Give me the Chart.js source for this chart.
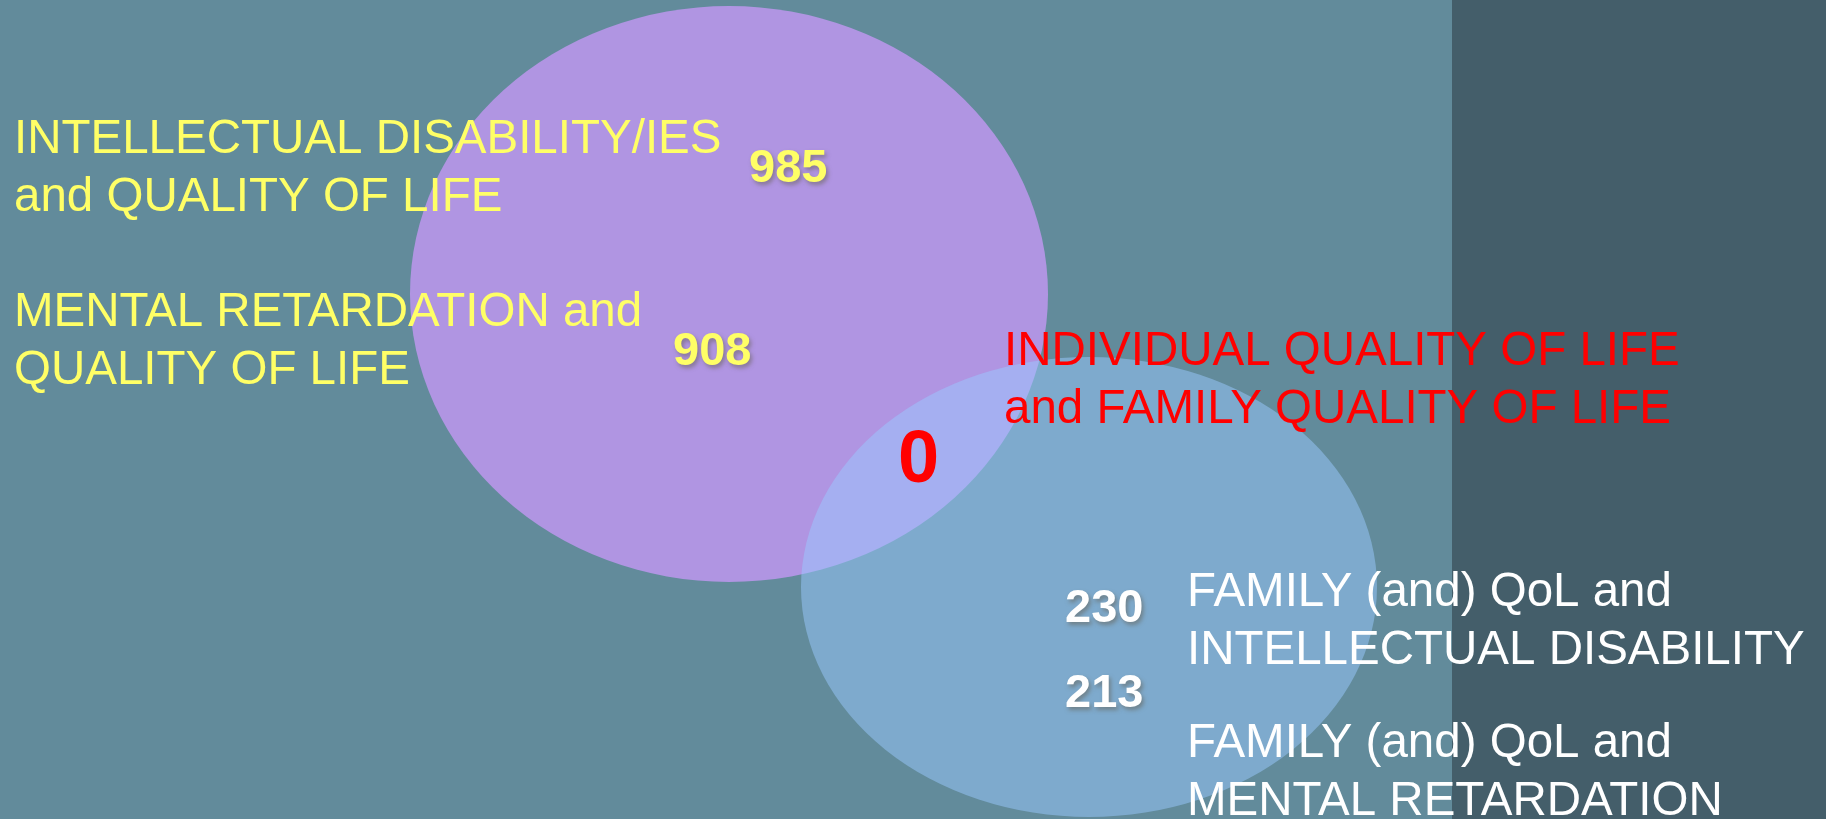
<!DOCTYPE html>
<html><head><meta charset="utf-8">
<script src="https://cdn.jsdelivr.net/npm/chart.js@4.4.1/dist/chart.umd.min.js"></script>
<style>html,body{margin:0;padding:0;background:#628b9b;overflow:hidden}#wrap{width:1826px;height:819px}canvas{display:block}</style>
</head><body><div id="wrap"><canvas id="c" width="1826" height="819"></canvas></div>
<script>
// ---- data ----
const setNames = ['ID/MR and QoL', 'Individual QoL and Family QoL'];
const yellowLabels = [['INTELLECTUAL DISABILITY/IES', 'and QUALITY OF LIFE'], ['MENTAL RETARDATION and', 'QUALITY OF LIFE']];
const yellowCounts = [985, 908];
const whiteLabels = [['FAMILY (and) QoL and', 'INTELLECTUAL DISABILITY'], ['FAMILY (and) QoL and', 'MENTAL RETARDATION']];
const whiteCounts = [230, 213];
const overlapLabel = ['INDIVIDUAL QUALITY OF LIFE', 'and FAMILY QUALITY OF LIFE'];
const overlapCount = [0];

// ---- layout (positions in scale units; scales span the canvas) ----
const W = 1826, H = 819;
const ellipseGeom = [
  {x: 729, y: 294, rx: 319, ry: 288, color: 'rgb(176,149,226)'},
  {x: 1089, y: 587, rx: 288, ry: 230, color: 'rgba(154,201,255,0.5)'}
];
const yellowLabelPos = [{x: 14, y: 153}, {x: 14, y: 326}];
const yellowCountPos = [{x: 749, y: 182}, {x: 673, y: 365}];
const whiteLabelPos = [{x: 1187, y: 606}, {x: 1187, y: 757}];
const whiteCountPos = [{x: 1065, y: 622}, {x: 1065, y: 707}];
const overlapLabelPos = {x: 1004, y: 365};
const overlapCountPos = {x: 898, y: 482};
const LINE = 58;
const FONT = "'Liberation Sans', Arial, sans-serif";

const vennPlugin = {
  id: 'venn',
  beforeDraw(chart) {
    const {ctx} = chart;
    const xs = chart.scales.x;
    ctx.save();
    ctx.fillStyle = '#628b9b';
    ctx.fillRect(0, 0, chart.width, chart.height);
    const px = xs.getPixelForValue(1452);
    ctx.fillStyle = '#445e6a';
    ctx.fillRect(px, 0, chart.width - px, chart.height);
    ctx.restore();
  },
  beforeDatasetsDraw(chart) {
    const {ctx} = chart;
    const xs = chart.scales.x, ys = chart.scales.y;
    const meta = chart.getDatasetMeta(0);
    ctx.save();
    meta.data.forEach((pt, i) => {
      const g = ellipseGeom[i];
      const rx = Math.abs(xs.getPixelForValue(g.x + g.rx) - xs.getPixelForValue(g.x));
      const ry = Math.abs(ys.getPixelForValue(g.y + g.ry) - ys.getPixelForValue(g.y));
      ctx.beginPath();
      ctx.ellipse(pt.x, pt.y, rx, ry, 0, 0, Math.PI * 2);
      ctx.fillStyle = g.color;
      ctx.fill();
    });
    ctx.restore();
  },
  afterDatasetsDraw(chart) {
    const {ctx} = chart;
    const xs = chart.scales.x, ys = chart.scales.y;
    const P = (p) => ({x: xs.getPixelForValue(p.x), y: ys.getPixelForValue(p.y)});
    ctx.save();
    ctx.textAlign = 'left';
    ctx.textBaseline = 'alphabetic';
    const lines = (arr, pos, color, font) => {
      const p = P(pos);
      ctx.font = font; ctx.fillStyle = color;
      arr.forEach((t, k) => ctx.fillText(t, p.x, p.y + k * LINE));
    };
    yellowLabels.forEach((l, i) => lines(l, yellowLabelPos[i], '#ffff66', '47.5px ' + FONT));
    whiteLabels.forEach((l, i) => lines(l, whiteLabelPos[i], '#ffffff', '47.5px ' + FONT));
    lines(overlapLabel, overlapLabelPos, '#ff0000', '47.5px ' + FONT);
    ctx.shadowColor = 'rgba(100,95,80,0.55)';
    ctx.shadowOffsetX = 2; ctx.shadowOffsetY = 3; ctx.shadowBlur = 4;
    const m1 = chart.getDatasetMeta(1);
    m1.data.forEach((pt, i) => {
      ctx.font = 'bold 47px ' + FONT; ctx.fillStyle = '#ffff66';
      ctx.fillText(String(yellowCounts[i]), pt.x, pt.y);
    });
    const m2 = chart.getDatasetMeta(2);
    m2.data.forEach((pt, i) => {
      ctx.font = 'bold 47px ' + FONT; ctx.fillStyle = '#ffffff';
      ctx.fillText(String(whiteCounts[i]), pt.x, pt.y);
    });
    ctx.shadowColor = 'rgba(0,0,0,0)';
    const m3 = chart.getDatasetMeta(3);
    m3.data.forEach((pt, i) => {
      ctx.font = 'bold 74px ' + FONT; ctx.fillStyle = '#ff0000';
      ctx.fillText(String(overlapCount[i]), pt.x, pt.y);
    });
    ctx.restore();
  }
};

new Chart(document.getElementById('c'), {
  type: 'scatter',
  data: {
    datasets: [
      {label: 'sets', data: ellipseGeom.map(g => ({x: g.x, y: g.y})), pointRadius: 0},
      {label: setNames[0], data: yellowCountPos.map(p => ({x: p.x, y: p.y})), pointRadius: 0},
      {label: setNames[1], data: whiteCountPos.map(p => ({x: p.x, y: p.y})), pointRadius: 0},
      {label: 'overlap', data: [overlapCountPos], pointRadius: 0}
    ]
  },
  options: {
    responsive: false,
    devicePixelRatio: 1,
    animation: false,
    layout: {padding: 0},
    plugins: {legend: {display: false}, tooltip: {enabled: false}},
    events: [],
    scales: {
      x: {type: 'linear', min: 0, max: W, display: false},
      y: {type: 'linear', min: 0, max: H, reverse: true, display: false}
    }
  },
  plugins: [vennPlugin]
});
</script>
</body></html>
